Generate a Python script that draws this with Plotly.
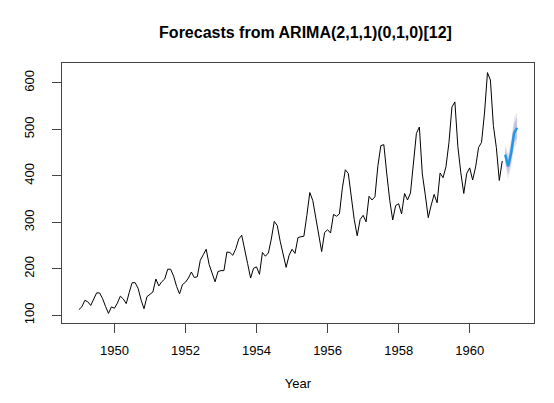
import plotly.graph_objects as go

# AirPassengers, monthly, Jan 1949 - Dec 1960
start_year = 1949
passengers = [
    112, 118, 132, 129, 121, 135, 148, 148, 136, 119, 104, 118,
    115, 126, 141, 135, 125, 149, 170, 170, 158, 133, 114, 140,
    145, 150, 178, 163, 172, 178, 199, 199, 184, 162, 146, 166,
    171, 180, 193, 181, 183, 218, 230, 242, 209, 191, 172, 194,
    196, 196, 236, 235, 229, 243, 264, 272, 237, 211, 180, 201,
    204, 188, 235, 227, 234, 264, 302, 293, 259, 229, 203, 229,
    242, 233, 267, 269, 270, 315, 364, 347, 312, 274, 237, 278,
    284, 277, 317, 313, 318, 374, 413, 405, 355, 306, 271, 306,
    315, 301, 356, 348, 355, 422, 465, 467, 404, 347, 305, 336,
    340, 318, 362, 348, 363, 435, 491, 505, 404, 359, 310, 337,
    360, 342, 406, 396, 420, 472, 548, 559, 463, 407, 362, 405,
    417, 391, 419, 461, 472, 535, 622, 606, 508, 461, 390, 432,
]

# forecasts Jan - May 1961
fc_mean = [445.6, 420.4, 449.2, 491.8, 503.4]
fc_lo80 = [430.9, 403.1, 429.8, 471.0, 481.6]
fc_hi80 = [460.4, 437.7, 468.6, 512.7, 525.2]
fc_lo95 = [423.1, 393.9, 419.5, 460.0, 470.0]
fc_hi95 = [468.2, 446.9, 478.9, 523.7, 536.8]

x_hist = [start_year + i / 12 for i in range(len(passengers))]
x_fc = [start_year + (len(passengers) + i) / 12 for i in range(len(fc_mean))]

fig = go.Figure()

# 95% band
fig.add_trace(go.Scatter(x=x_fc, y=fc_lo95, mode="lines", line=dict(width=0),
                         showlegend=False, hoverinfo="skip"))
fig.add_trace(go.Scatter(x=x_fc, y=fc_hi95, mode="lines", line=dict(width=0),
                         fill="tonexty", fillcolor="#E4E4EE",
                         showlegend=False, hoverinfo="skip"))
# 80% band
fig.add_trace(go.Scatter(x=x_fc, y=fc_lo80, mode="lines", line=dict(width=0),
                         showlegend=False, hoverinfo="skip"))
fig.add_trace(go.Scatter(x=x_fc, y=fc_hi80, mode="lines", line=dict(width=0),
                         fill="tonexty", fillcolor="#C4C4DC",
                         showlegend=False, hoverinfo="skip"))

fig.add_trace(go.Scatter(x=x_hist, y=passengers, mode="lines",
                         line=dict(color="black", width=1), showlegend=False))
fig.add_trace(go.Scatter(x=x_fc, y=fc_mean, mode="lines",
                         line=dict(color="#2297E6", width=2.5), showlegend=False))

axis_common = dict(showgrid=False, zeroline=False, showline=True, mirror=True,
                   linecolor="#444444", linewidth=1, ticks="outside", ticklen=9,
                   tickcolor="#444444", tickfont=dict(size=13, color="black"),
                   automargin=False)

# page body adds an 8px offset, margins compensate for it
fig.update_layout(
    width=554, height=403,
    margin=dict(l=54, r=28, t=55, b=88),
    paper_bgcolor="white", plot_bgcolor="white",
    font=dict(family="Liberation Sans, Arial, sans-serif", color="black"),
    title=dict(text="<b>Forecasts from ARIMA(2,1,1)(0,1,0)[12]</b>",
               x=0.537, xanchor="center", y=0.94, yanchor="middle",
               yref="container", font=dict(size=16)),
    xaxis=dict(range=[1948.525, 1961.81], tickvals=[1950, 1952, 1954, 1956, 1958, 1960],
               ticklabelstandoff=6,
               title=dict(text="Year", font=dict(size=13), standoff=22), **axis_common),
    yaxis=dict(range=[83.3, 642.7], tickvals=[100, 200, 300, 400, 500, 600],
               tickangle=-90, ticklabelstandoff=13, **axis_common),
)

fig.write_html("out.html")
